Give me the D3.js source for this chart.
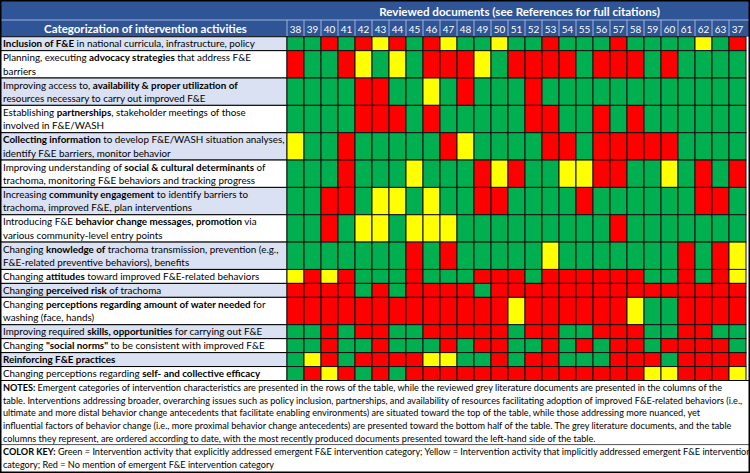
<!DOCTYPE html>
<html><head><meta charset="utf-8">
<script src="https://cdn.jsdelivr.net/npm/d3@7"></script>
<style>body{margin:0;background:#fff} svg{display:block} text{font-family:Lato,'Open Sans',sans-serif}</style>
</head><body><svg id="c" width="750" height="473"></svg>
<script>
const documents = ["38","39","40","41","42","43","44","45","46","47","48","49","50","51","52","53","54","55","56","57","58","59","60","61","62","63","37"];
const categories = [
 ["**Inclusion of F&E** in national curricula, infrastructure, policy"],
 ["Planning, executing **advocacy strategies** that address F&E","barriers"],
 ["Improving access to, **availability & proper utilization of**","resources necessary to carry out improved F&E"],
 ["Establishing **partnerships**, stakeholder meetings of those","involved in F&E/WASH"],
 ["**Collecting information** to develop F&E/WASH situation analyses,","identify F&E barriers, monitor behavior"],
 ["Improving understanding of **social & cultural determinants** of","trachoma, monitoring F&E behaviors and tracking progress"],
 ["Increasing **community engagement** to identify barriers to","trachoma, improved F&E, plan interventions"],
 ["Introducing F&E **behavior change messages, promotion** via","various community-level entry points"],
 ["Changing **knowledge of** trachoma transmission, prevention (e.g.,","F&E-related preventive behaviors), benefits"],
 ["Changing **attitudes** toward improved F&E-related behaviors"],
 ["Changing **perceived risk** of trachoma"],
 ["Changing **perceptions regarding amount of water needed** for","washing (face, hands)"],
 ["Improving required **skills, opportunities** for carrying out F&E"],
 ["Changing **\"social norms\"** to be consistent with improved F&E"],
 ["**Reinforcing F&E practices**"],
 ["Changing perceptions regarding **self- and collective efficacy**"]
];
// G = explicit, Y = implicit, R = no mention (one letter per document, in documents order)
const ratings = [
 "GGRGRYRGRYGGYGGRGGGRGGGGYGR",
 "RGGRYGYGRRRYGRRRRGRRRGRGGGG",
 "GGGGRRGGYGRGGGRGGGGGGGGGGGG",
 "GGGGRRRGRGGGGGRRGGRGRGGGGGG",
 "YGGRGGGGGRYGGGGRRGRRRRRGGGG",
 "GGGRGGGYGGGRYRGGYYRRGGYGRGR",
 "GGRRGYYGYGGRRGGGGRGGGGGGRRG",
 "GGRGYYGYYYGGGGGGGGGRGGGGGGG",
 "GGGGGGGRGRGGGGGYGGGGGGGRGRY",
 "YRYRGGGRGGGRRRGRRRRRRGGRGRY",
 "RRRRGRGRRRRGRRRRRRRRRRRRRRR",
 "RRRRRRRRRRRRRYRRRRRRYGGRRRR",
 "GGRGRRGGRRRRRGRRGGRRRGGRRGG",
 "GGRGGRGGGRGRRGGRGRGRRGRRRRG",
 "GYRGRRRRYYGGRGRRGGGRRRGRRRR",
 "GRYRGRGRRRRRRRRRRRRRRYYRRRY"
];
const headerLeft = "Categorization of intervention activities";
const headerTop = "Reviewed documents (see References for full citations)";
const notes = [
 "**NOTES:** Emergent categories of intervention characteristics are presented in the rows of the table, while the reviewed grey literature documents are presented in the columns of the",
 "table. Interventions addressing broader, overarching issues such as policy inclusion, partnerships, and availability of resources facilitating adoption of improved F&E-related behaviors (i.e.,",
 "ultimate and more distal behavior change antecedents that facilitate enabling environments) are situated toward the top of the table, while those addressing more nuanced, yet",
 "influential factors of behavior change (i.e., more proximal behavior change antecedents) are presented toward the bottom half of the table. The grey literature documents, and the table",
 "columns they represent, are ordered according to date, with the most recently produced documents presented toward the left-hand side of the table."
];
const colorKeyText = [
 "**COLOR KEY:** Green = Intervention activity that explicitly addressed emergent F&E intervention category; Yellow = Intervention activity that implicitly addressed emergent F&E intervention",
 "category; Red = No mention of emergent F&E intervention category"
];
const colorOf = {G:"#00B050", Y:"#FFFF00", R:"#FF0000"};

const svg = d3.select("#c");
const W = 750, H = 473;
const headBlue = "#2F5597", lightRow = "#D9E1F2";
const gridLeft = 287, gridRight = 746, gridTop = 36.7, gridBottom = 380.5;

function rich(sel, str, x, y, size, fill) {
  const t = sel.append("text").attr("x", x).attr("y", y).attr("font-size", size).attr("fill", fill || "#000");
  str.split("**").forEach((s, i) => { if (s) t.append("tspan").attr("font-weight", i % 2 ? "bold" : "normal").text(s); });
  return t;
}
function fit(str, target) {
  const t = rich(svg, str, 0, -500, 100);
  const w = t.node().getComputedTextLength();
  t.remove();
  return 100 * target / w;
}

svg.append("rect").attr("width", W).attr("height", H).attr("fill", "#fff");

// header
svg.append("rect").attr("x", 0).attr("y", 0).attr("width", W).attr("height", gridTop).attr("fill", headBlue);
svg.append("line").attr("x1", 0).attr("x2", W).attr("y1", 20).attr("y2", 20).attr("stroke", "#9DB3DE").attr("stroke-width", 1);

const x = d3.scaleBand().domain(documents).range([gridLeft, gridRight]);
const units = categories.map(c => c.length === 1 ? 1 : 1.96);
const cum = [0]; units.forEach(u => cum.push(cum[cum.length - 1] + u));
const y = d3.scaleLinear().domain([0, cum[cum.length - 1]]).range([gridTop, gridBottom]);

// column header cells
const hdr = svg.append("g");
hdr.selectAll("line").data(documents).join("line")
  .attr("x1", d => x(d)).attr("x2", d => x(d)).attr("y1", 20).attr("y2", gridTop)
  .attr("stroke", "#9DB3DE").attr("stroke-width", 1);
const numSize = fit("38", 11.5);
hdr.selectAll("text").data(documents).join("text")
  .attr("x", d => x(d) + x.bandwidth() / 2).attr("y", 32.6).attr("text-anchor", "middle")
  .attr("fill", "#fff").attr("font-size", numSize).text(d => d);

const hlSize = fit("**" + headerLeft + "**", 203);
rich(svg, "**" + headerLeft + "**", 145.5, 32.8, hlSize, "#fff").attr("text-anchor", "middle");
const htSize = fit("**" + headerTop + "**", 281);
rich(svg, "**" + headerTop + "**", (gridLeft + gridRight) / 2 + 3, 16, htSize, "#fff").attr("text-anchor", "middle");

// row labels
const labSize = fit(categories[0][0], 252);
const rows = svg.append("g");
categories.forEach((c, i) => {
  const y0 = y(cum[i]), y1 = y(cum[i + 1]);
  rows.append("rect").attr("x", 0.5).attr("y", y0).attr("width", gridLeft - 0.5).attr("height", y1 - y0)
    .attr("fill", i % 2 === 0 ? lightRow : "#fff").attr("stroke", "#000").attr("stroke-width", 1);
  c.forEach((line, j) => rich(rows, line, 3, y0 + 10.5 + j * 13.5, labSize));
});

// cells
const cells = svg.append("g");
ratings.forEach((r, i) => {
  const y0 = y(cum[i]), y1 = y(cum[i + 1]);
  cells.selectAll(null).data(r.split("").map((v, k) => ({doc: documents[k], v}))).join("rect")
    .attr("x", d => x(d.doc)).attr("y", y0).attr("width", x.bandwidth()).attr("height", y1 - y0)
    .attr("fill", d => colorOf[d.v]).attr("stroke", "#111").attr("stroke-width", 1);
});

// notes
const nSize = fit(notes[1], 740);
const ng = svg.append("g");
ng.append("rect").attr("x", 0.5).attr("y", gridBottom).attr("width", W - 1).attr("height", H - gridBottom - 0.5)
  .attr("fill", "#fff").attr("stroke", "#000");
notes.forEach((l, i) => rich(ng, l, 3, 390.8 + i * 12.7, nSize));
ng.append("line").attr("x1", 0).attr("x2", W).attr("y1", 444.6).attr("y2", 444.6).attr("stroke", "#555").attr("stroke-width", 1);
colorKeyText.forEach((l, i) => rich(ng, l, 3, 455 + i * 12.7, nSize));

// outer border
svg.append("rect").attr("x", 0.75).attr("y", 0.75).attr("width", W - 1.5).attr("height", H - 1.5)
  .attr("fill", "none").attr("stroke", "#000").attr("stroke-width", 1.5);
</script></body></html>
